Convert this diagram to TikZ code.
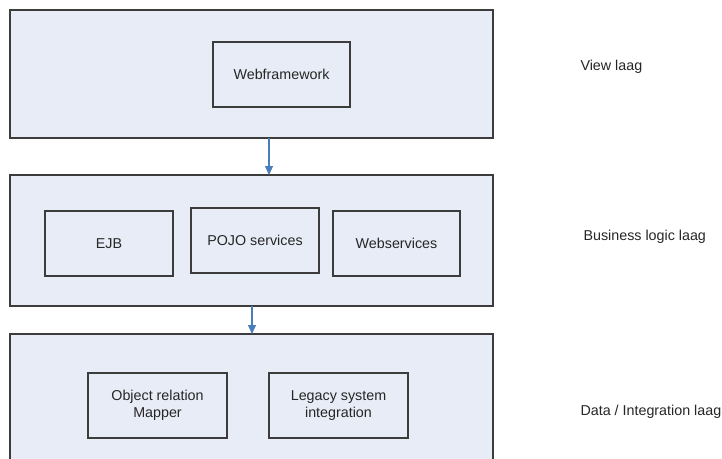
\documentclass[tikz,border=0pt]{standalone}
\usepackage{fontspec}
\setmainfont{Liberation Sans}
\usetikzlibrary{arrows.meta}
\definecolor{layerfill}{HTML}{E8ECF6}
\definecolor{edge}{HTML}{3C3C3C}
\definecolor{flow}{HTML}{4A7EBB}
\begin{document}
\begin{tikzpicture}[x=1pt,y=-1pt,
  layer/.style={draw=edge,fill=layerfill,line width=1.4pt},
  part/.style={draw=edge,fill=layerfill,line width=1.1pt,font=\fontsize{14.3}{17}\selectfont,align=center,text=black!85},
  tier/.style={anchor=west,font=\fontsize{14.3}{17}\selectfont,text=black!85},
  flowarrow/.style={draw=flow,line width=1.2pt,-{Triangle[length=9pt,width=8pt]}}]
\useasboundingbox (0,0) rectangle (722,458);
\clip (0,0) rectangle (722,458);
\fill[white] (0,0) rectangle (722,458);

% three layers
\path[layer] (10,10) rectangle (493,138);
\path[layer] (10,175) rectangle (493,306);
\path[layer] (10,334) rectangle (493,470);
\coordinate (l1b) at (269,138);
\coordinate (l2t) at (269,175);
\coordinate (l2b) at (252,306);
\coordinate (l3t) at (252,334);

% components
\node[part,minimum width=137pt,minimum height=65pt] (web) at (281.5,74.5) {Webframework};
\node[part,minimum width=128pt,minimum height=65pt] (ejb) at (109,243.5) {EJB};
\node[part,minimum width=128pt,minimum height=65pt] (pojo) at (255,240.5) {POJO services};
\node[part,minimum width=127pt,minimum height=65pt] (ws) at (396.5,243.5) {Webservices};
\node[part,minimum width=139pt,minimum height=65pt] (orm) at (157.5,405.5) {Object relation\\Mapper};
\node[part,minimum width=139pt,minimum height=65pt] (legacy) at (338.5,405.5) {Legacy system\\integration};

% tier labels
\node[tier] (v) at (577,67) {View laag};
\node[tier] (b) at (580,237) {Business logic laag};
\node[tier] (d) at (577,412) {Data / Integration laag};

% flow between layers
\draw[flowarrow] (l1b) -- (l2t);
\draw[flowarrow] (l2b) -- (l3t);
\end{tikzpicture}
\end{document}
